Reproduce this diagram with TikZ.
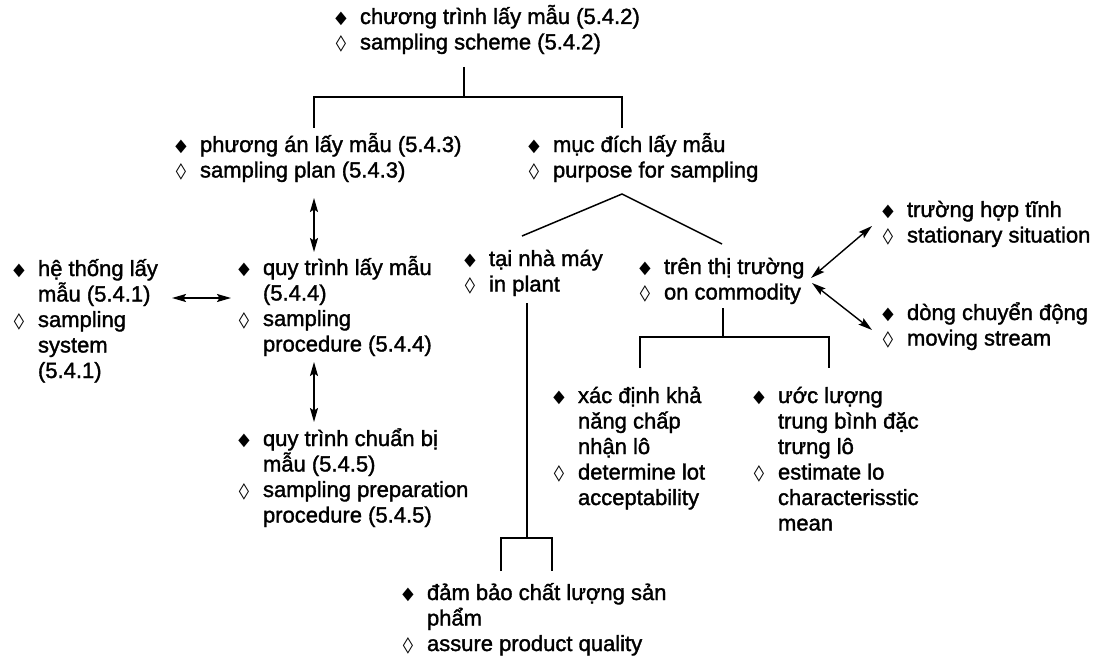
\documentclass[tikz,border=0pt]{standalone}
\usepackage{fontspec}
\setmainfont{Liberation Sans}[FakeBold=1.5]
\newfontfamily\dvs{DejaVu Sans}
\usetikzlibrary{arrows.meta}

% bullets: filled diamond for the Vietnamese term, open lozenge for the English one
\newcommand\fb{\makebox[10pt]{\raisebox{0.8pt}{\fontsize{15.5}{15.5}\dvs\scalebox{0.95}[1.15]{◆}}}}
\newcommand\ob{\makebox[10pt]{\raisebox{0.8pt}{\fontsize{16}{16}\dvs\bfseries\scalebox{1.3}[1]{◊}}}}

% a block of bulleted lines; rows separated by \\, bullet & text
\newcommand\blk[1]{\vtop{\baselineskip=25.5pt\lineskiplimit=-100pt\lineskip=0pt
  \let\\\cr\halign{\hbox to 24pt{##\hfil}&##\hfil\cr#1\crcr}}}

\tikzset{
  term/.style={inner sep=0pt, outer sep=0pt, anchor=base west,
    font=\fontsize{22}{25.5}\selectfont, text=black},
  link/.style={line width=1.5pt, black},
  dbl/.style={line width=1.4pt, black,
    {Stealth[length=14pt,width=8pt,inset=2.5pt]}-{Stealth[length=14pt,width=8pt,inset=2.5pt]}}
}

\begin{document}
\begin{tikzpicture}[x=1pt,y=-1pt]
\useasboundingbox[fill=white] (0,0) rectangle (1105,658);

% terms (anchored at the bullet column, first baseline)
\node[term] (scheme)  at (336,24)  {\blk{\fb&chương trình lấy mẫu (5.4.2)\\ \ob&sampling scheme (5.4.2)}};
\node[term] (plan)    at (176,152) {\blk{\fb&phương án lấy mẫu (5.4.3)\\ \ob&sampling plan (5.4.3)}};
\node[term] (purpose) at (529,152) {\blk{\fb&mục đích lấy mẫu\\ \ob&purpose for sampling}};
\node[term] (system)  at (14,276)  {\blk{\fb&hệ thống lấy\\ &mẫu (5.4.1)\\ \ob&sampling\\ &system\\ &(5.4.1)}};
\node[term] (proc)    at (239,275) {\blk{\fb&quy trình lấy mẫu\\ &(5.4.4)\\ \ob&sampling\\ &procedure (5.4.4)}};
\node[term] (prep)    at (239,446) {\blk{\fb&quy trình chuẩn bị\\ &mẫu (5.4.5)\\ \ob&sampling preparation\\ &procedure (5.4.5)}};
\node[term] (plant)   at (465,266) {\blk{\fb&tại nhà máy\\ \ob&in plant}};
\node[term] (comm)    at (640,274) {\blk{\fb&trên thị trường\\ \ob&on commodity}};
\node[term] (stat)    at (883,217) {\blk{\fb&trường hợp tĩnh\\ \ob&stationary situation}};
\node[term] (moving)  at (883,320) {\blk{\fb&dòng chuyển động\\ \ob&moving stream}};
\node[term] (accept)  at (554,403) {\blk{\fb&xác định khả\\ &năng chấp\\ &nhận lô\\ \ob&determine lot\\ &acceptability}};
\node[term] (mean)    at (754,403) {\blk{\fb&ước lượng\\ &trung bình đặc\\ &trưng lô\\ \ob&estimate lo\\ &characterisstic\\ &mean}};
\node[term] (quality) at (403,600) {\blk{\fb&đảm bảo chất lượng sản\\ &phẩm\\ \ob&assure product quality}};

% connection points
\coordinate (scheme-s) at (464,67);
\coordinate (scheme-j) at (464,97);
\coordinate (plan-n)   at (314,128);
\coordinate (purp-n)   at (622,128);
\coordinate (purp-s)   at (622,194);
\coordinate (plant-n)  at (522,236);
\coordinate (comm-n)   at (722,244);
\coordinate (plan-s)   at (314,198);
\coordinate (proc-n)   at (314,252);
\coordinate (proc-s)   at (314,362);
\coordinate (prep-n)   at (314,422);
\coordinate (sys-e)    at (172,298);
\coordinate (proc-w)   at (231,298);
\coordinate (comm-e1)  at (811,278);
\coordinate (comm-e2)  at (812,283);
\coordinate (stat-w)   at (872,226);
\coordinate (mov-w)    at (872,330);
\coordinate (comm-s)   at (723,308);
\coordinate (comm-j)   at (723,337);
\coordinate (acc-n)    at (640,368);
\coordinate (mean-n)   at (829,368);
\coordinate (plant-s)  at (527,303);
\coordinate (plant-j)  at (527,538);
\coordinate (qual-n1)  at (501,571);
\coordinate (qual-n2)  at (552,571);

% scheme -> plan / purpose
\draw[link] (scheme-s) -- (scheme-j);
\draw[link] (plan-n) |- (scheme-j) -| (purp-n);
% purpose -> in plant / on commodity
\draw[link] (plant-n) -- (purp-s) -- (comm-n);
% on commodity -> acceptability / mean
\draw[link] (comm-s) -- (comm-j);
\draw[link] (acc-n) |- (comm-j) -| (mean-n);
% in plant -> product quality
\draw[link] (plant-s) -- (plant-j);
\draw[link] (qual-n1) |- (plant-j) -| (qual-n2);

% two-way relations
\draw[dbl] (plan-s) -- (proc-n);
\draw[dbl] (proc-s) -- (prep-n);
\draw[dbl] (sys-e) -- (proc-w);
\draw[dbl] (comm-e1) -- (stat-w);
\draw[dbl] (comm-e2) -- (mov-w);
\end{tikzpicture}
\end{document}
